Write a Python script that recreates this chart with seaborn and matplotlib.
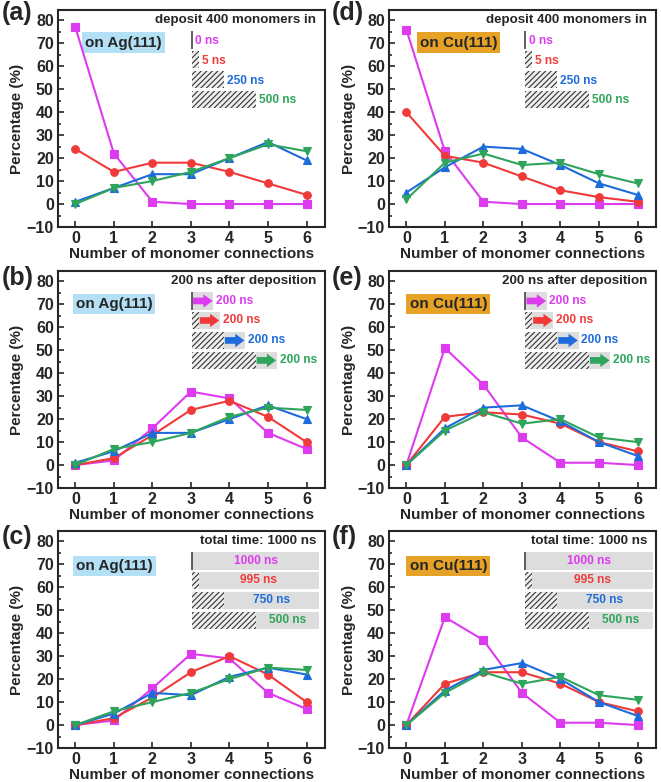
import numpy as np
import pandas as pd
import matplotlib
matplotlib.use("Agg")
import matplotlib.pyplot as plt
import seaborn as sns
from matplotlib.patches import Rectangle
from matplotlib.ticker import MultipleLocator

# ---------------- data ----------------
connections = [0, 1, 2, 3, 4, 5, 6]
xtick_labels = ["0", "1", "2", "3", "4", "5", "6"]
deposit_times = [0, 5, 250, 500]          # ns
after_time = 200                           # ns
total_time = 1000                          # ns

# (a) Ag(111), deposit
ag_dep_0 = [77, 22, 1, 0, 0, 0, 0]
ag_dep_5 = [24, 14, 18, 18, 14, 9, 4]
ag_dep_250 = [1, 7, 13, 13, 20, 27, 19]
ag_dep_500 = [0, 7, 10, 14, 20, 26, 23]
# (b) Ag(111), 200 ns after deposition
ag_aft_0 = [0, 2, 16, 32, 29, 14, 7]
ag_aft_5 = [0, 3, 13, 24, 28, 21, 10]
ag_aft_250 = [1, 6, 14, 14, 20, 26, 20]
ag_aft_500 = [0, 7, 10, 14, 21, 25, 24]
# (c) Ag(111), total 1000 ns
ag_tot_0 = [0, 2, 16, 31, 29, 14, 7]
ag_tot_5 = [0, 3, 12, 23, 30, 22, 10]
ag_tot_250 = [0, 5, 14, 13, 21, 25, 22]
ag_tot_500 = [0, 6, 10, 14, 20, 25, 24]
# (d) Cu(111), deposit
cu_dep_0 = [76, 23, 1, 0, 0, 0, 0]
cu_dep_5 = [40, 21, 18, 12, 6, 3, 1]
cu_dep_250 = [5, 16, 25, 24, 17, 9, 4]
cu_dep_500 = [2, 18, 22, 17, 18, 13, 9]
# (e) Cu(111), 200 ns after deposition
cu_aft_0 = [0, 51, 35, 12, 1, 1, 0]
cu_aft_5 = [0, 21, 23, 22, 18, 10, 6]
cu_aft_250 = [0, 16, 25, 26, 19, 10, 4]
cu_aft_500 = [0, 15, 23, 18, 20, 12, 10]
# (f) Cu(111), total 1000 ns
cu_tot_0 = [0, 47, 37, 14, 1, 1, 0]
cu_tot_5 = [0, 18, 23, 23, 18, 10, 6]
cu_tot_250 = [0, 15, 24, 27, 20, 10, 4]
cu_tot_500 = [0, 14, 23, 18, 21, 13, 11]

panel_letters = ["(a)", "(b)", "(c)", "(d)", "(e)", "(f)"]
substrates = ["on Ag(111)", "on Cu(111)"]
inset_titles = ["deposit 400 monomers in", "200 ns after deposition",
                "total time: 1000 ns"]

# ---------------- style ----------------
sns.set_style("ticks")
plt.rcParams["font.family"] = ["Liberation Sans", "DejaVu Sans"]
plt.rcParams["font.weight"] = "bold"
plt.rcParams["axes.labelweight"] = "bold"
plt.rcParams["hatch.linewidth"] = 0.8

colors = ["#DD3BF0", "#F03A3A", "#1E6BDB", "#2EA55A"]
markers = ["s", "o", "^", "v"]
sub_colors = ["#B4E0F5", "#E6A226"]

fig = plt.figure(figsize=(6.61, 7.82), dpi=100)
lefts = [58 / 661, 389 / 661]
bottoms = [(782 - 227) / 782, (782 - 488) / 782, (782 - 748) / 782]
w_ax = 267 / 661
h_ax = 217 / 782

panel_data = [
    [[ag_dep_0, ag_dep_5, ag_dep_250, ag_dep_500],
     [ag_aft_0, ag_aft_5, ag_aft_250, ag_aft_500],
     [ag_tot_0, ag_tot_5, ag_tot_250, ag_tot_500]],
    [[cu_dep_0, cu_dep_5, cu_dep_250, cu_dep_500],
     [cu_aft_0, cu_aft_5, cu_aft_250, cu_aft_500],
     [cu_tot_0, cu_tot_5, cu_tot_250, cu_tot_500]],
]

SCALE = 0.000476   # axes fraction per ns in the schematic
MINW = 0.025
AFTER_W = 0.08
ROW_Y = [0.862, 0.772, 0.680, 0.588]
ROW_H = 0.082
SMALL = 8.6


def draw_inset(ax, mode, x0):
    ax.text(0.968, 0.955, inset_titles[mode], transform=ax.transAxes,
            ha="right", va="center", fontsize=9.6, fontweight="bold")
    for i, t in enumerate(deposit_times):
        y = ROW_Y[i]
        w = max(t * SCALE, MINW) if t > 0 else 0.0
        c = colors[i]
        lab = f"{t} ns"
        if mode == 1:
            ax.add_patch(Rectangle((x0, y - ROW_H / 2), w + AFTER_W, ROW_H,
                                   transform=ax.transAxes, facecolor="#DDDDDD",
                                   edgecolor="none", zorder=1))
            ax.annotate("", xy=(x0 + w + AFTER_W - 0.003, y),
                        xytext=(x0 + w + 0.004, y),
                        xycoords="axes fraction", textcoords="axes fraction",
                        arrowprops=dict(arrowstyle="simple,head_length=0.55,head_width=0.8,tail_width=0.4",
                                        color=c, lw=0, shrinkA=0, shrinkB=0,
                                        mutation_scale=12), zorder=3)
            ax.text(x0 + w + AFTER_W + 0.01, y, f"{after_time} ns",
                    transform=ax.transAxes, ha="left", va="center",
                    color=c, fontsize=SMALL, fontweight="bold")
        elif mode == 2:
            tw = total_time * SCALE
            ax.add_patch(Rectangle((x0, y - ROW_H / 2), tw, ROW_H,
                                   transform=ax.transAxes, facecolor="#DDDDDD",
                                   edgecolor="none", zorder=1))
            ax.text(x0 + (w + tw) / 2, y, f"{total_time - t} ns",
                    transform=ax.transAxes, ha="center", va="center",
                    color=c, fontsize=SMALL, fontweight="bold", zorder=4)
        else:
            ax.text(x0 + w + 0.012, y - 0.005, lab, transform=ax.transAxes,
                    ha="left", va="center", color=c, fontsize=SMALL,
                    fontweight="bold")
        if t == 0:
            ax.plot([x0, x0], [y - ROW_H / 2, y + ROW_H / 2],
                    transform=ax.transAxes, color="#444444", lw=1.2,
                    solid_capstyle="butt", zorder=3)
        else:
            ax.add_patch(Rectangle((x0, y - ROW_H / 2), w, ROW_H,
                                   transform=ax.transAxes, facecolor="#EEEEEE",
                                   edgecolor="#333333", lw=0, hatch="//////",
                                   zorder=2))


box_x = [[0.245, 0.21, 0.212], [0.26, 0.222, 0.222]]
box_y = [0.85, 0.847, 0.84]
inset_x0 = [0.502, 0.511]

for col in range(2):
    for row in range(3):
        ax = fig.add_axes([lefts[col], bottoms[row], w_ax, h_ax])
        series = panel_data[col][row]
        for i, vals in enumerate(series):
            df = pd.DataFrame({"conn": connections, "pct": vals})
            sns.lineplot(data=df, x="conn", y="pct", ax=ax, color=colors[i],
                         marker=markers[i], markersize=5.5,
                         markeredgecolor=colors[i], markeredgewidth=0.8,
                         linewidth=1.5, legend=False, zorder=5 + i)
        ax.set_xlim(-0.45, 6.48)
        ax.set_ylim(-10, 84.5)
        ax.set_xticks(connections)
        ax.set_xticklabels(xtick_labels)
        ax.yaxis.set_major_locator(MultipleLocator(10))
        ax.yaxis.set_minor_locator(MultipleLocator(5))
        ax.tick_params(axis="both", which="both", direction="in",
                       labelsize=11.5, width=1.2, pad=3)
        ax.tick_params(axis="both", which="major", length=4)
        ax.tick_params(axis="y", which="minor", length=2.2)
        for lab in ax.get_xticklabels() + ax.get_yticklabels():
            lab.set_fontweight("bold")
        for sp in ax.spines.values():
            sp.set_visible(True)
            sp.set_linewidth(1.5)
        ax.set_xlabel("Number of monomer connections", fontsize=11,
                      fontweight="bold", labelpad=0.5)
        ax.set_ylabel("Percentage (%)", fontsize=11, fontweight="bold",
                      labelpad=1.5)
        ax.text(box_x[col][row], box_y[row], substrates[col],
                transform=ax.transAxes, ha="center", va="center",
                fontsize=11, fontweight="bold",
                bbox=dict(boxstyle="square,pad=0.2",
                          facecolor=sub_colors[col], edgecolor="none"))
        draw_inset(ax, row, inset_x0[col])
        fx = [2, 332][col] / 661
        fy = 1 - [13, 278, 537][row] / 782
        fig.text(fx, fy, panel_letters[col * 3 + row], fontsize=18,
                 fontweight="bold", ha="left", va="center")

fig.savefig("out.png", dpi=100)
